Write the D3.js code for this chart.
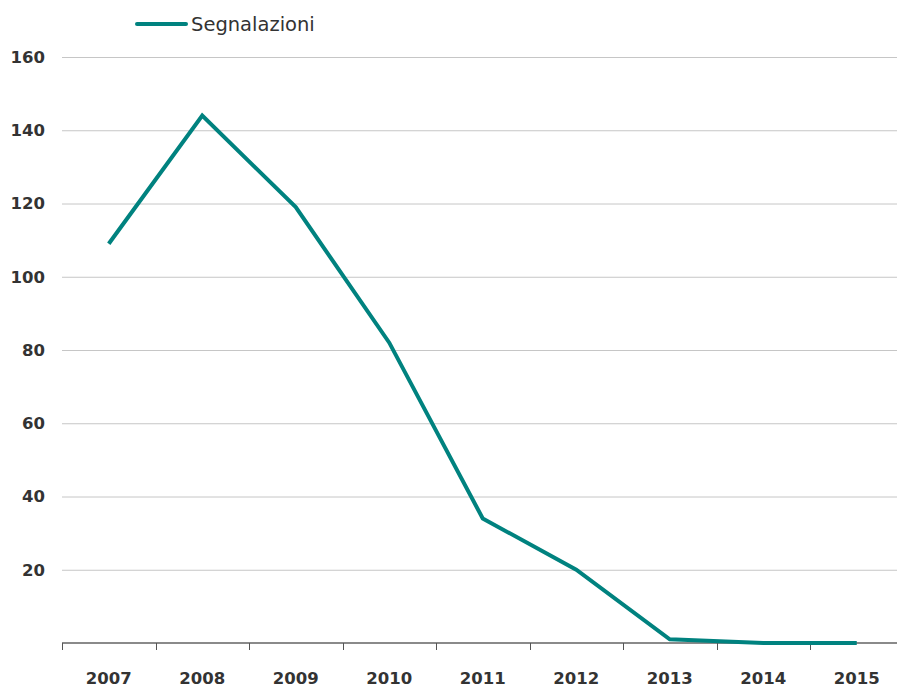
<!DOCTYPE html>
<html>
<head>
<meta charset="utf-8">
<script src="https://d3js.org/d3.v7.min.js"></script>
<style>
  body { margin: 0; background: #fff; }
  svg text { font-family: "DejaVu Sans", sans-serif; }
</style>
</head>
<body>
<div id="vis"></div>
<script>
// data
const years = ["2007", "2008", "2009", "2010", "2011", "2012", "2013", "2014", "2015"];
const segnalazioni = [109, 144, 119, 82, 34, 20, 1, 0, 0];
const yTicks = [20, 40, 60, 80, 100, 120, 140, 160];

const width = 897, height = 687;
const plotLeft = 62, plotRight = 903.5, plotTop = 57, plotBottom = 643;

const svg = d3.select("#vis").append("svg")
  .attr("width", width)
  .attr("height", height);

const x = d3.scaleBand().domain(years).range([plotLeft, plotRight]);
const y = d3.scaleLinear().domain([0, 160]).range([plotBottom, plotTop]);

// gridlines
svg.append("g")
  .selectAll("line")
  .data(yTicks)
  .join("line")
  .attr("x1", plotLeft)
  .attr("x2", width)
  .attr("y1", d => y(d) + 0.5)
  .attr("y2", d => y(d) + 0.5)
  .attr("stroke", "#c6c6c6")
  .attr("stroke-width", 1);

// y labels
svg.append("g")
  .selectAll("text")
  .data(yTicks)
  .join("text")
  .attr("x", 45)
  .attr("y", d => y(d))
  .attr("dy", "0.36em")
  .attr("text-anchor", "end")
  .attr("font-size", 16.5)
  .attr("font-weight", "bold")
  .attr("fill", "#333")
  .text(d => d);

// x axis
const xAxis = svg.append("g")
  .attr("transform", `translate(0,${plotBottom})`);
xAxis.append("line")
  .attr("x1", plotLeft).attr("x2", width)
  .attr("stroke", "#8a8a8a").attr("stroke-width", 2);
xAxis.selectAll("line.tick")
  .data(years.concat(["end"]))
  .join("line")
  .attr("class", "tick")
  .attr("x1", (d, i) => Math.round(plotLeft + i * x.step()) + 0.5)
  .attr("x2", (d, i) => Math.round(plotLeft + i * x.step()) + 0.5)
  .attr("y1", 0).attr("y2", 7)
  .attr("stroke", "#555").attr("stroke-width", 1);
xAxis.selectAll("text")
  .data(years)
  .join("text")
  .attr("x", d => x(d) + x.bandwidth() / 2)
  .attr("y", 41)
  .attr("text-anchor", "middle")
  .attr("font-size", 16.5)
  .attr("font-weight", "bold")
  .attr("fill", "#333")
  .text(d => d);

// line
const line = d3.line()
  .x((d, i) => x(years[i]) + x.bandwidth() / 2)
  .y(d => y(d));

svg.append("path")
  .datum(segnalazioni)
  .attr("d", line)
  .attr("fill", "none")
  .attr("stroke", "#00827f")
  .attr("stroke-width", 4)
  .attr("stroke-linejoin", "miter");

// legend
svg.append("line")
  .attr("x1", 137).attr("x2", 186)
  .attr("y1", 24).attr("y2", 24)
  .attr("stroke", "#00827f")
  .attr("stroke-width", 4)
  .attr("stroke-linecap", "round");
svg.append("text")
  .attr("x", 191).attr("y", 24)
  .attr("dy", "0.35em")
  .attr("font-size", 19.5)
  .attr("font-family", "'Open Sans', sans-serif")
  .attr("fill", "#333")
  .text("Segnalazioni");
</script>
</body>
</html>
